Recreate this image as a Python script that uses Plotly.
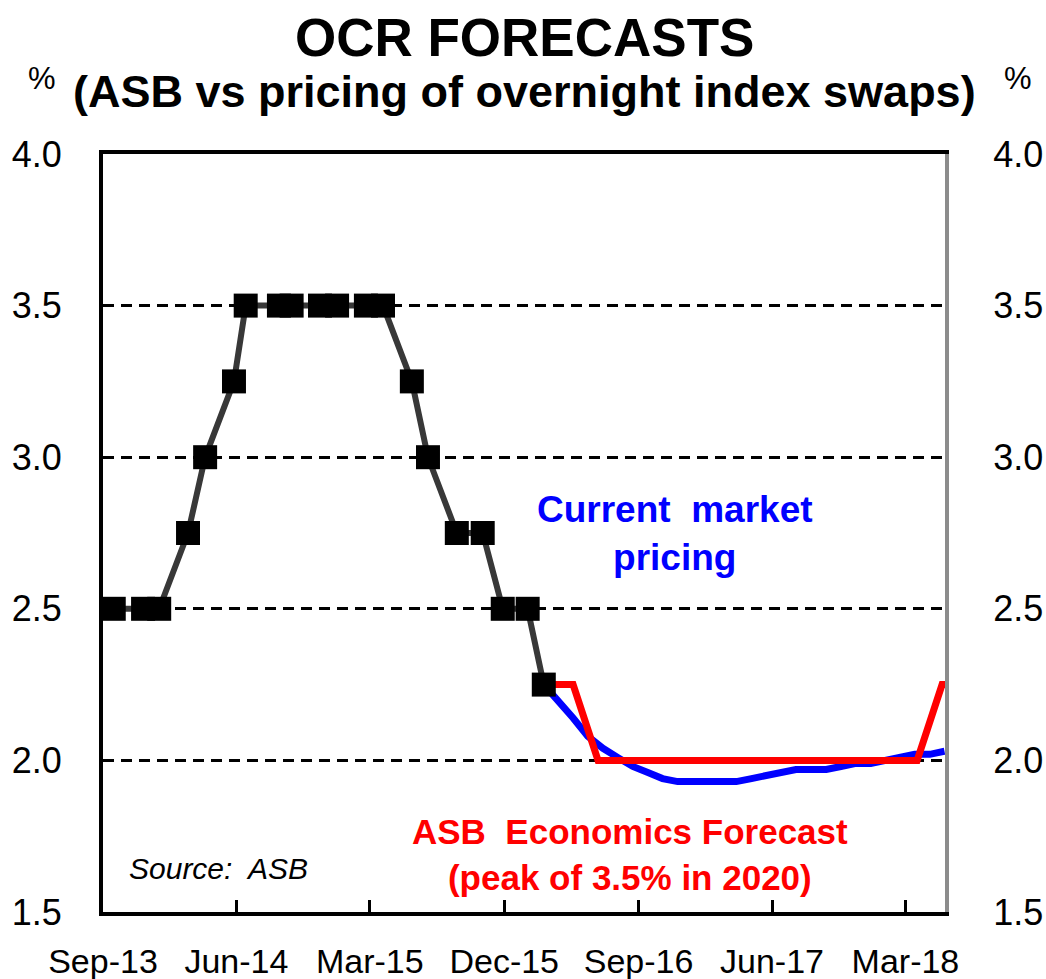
import plotly.graph_objects as go

# Official cash rate history (decision dates and rate, %)
ocr_dates = [
    "2013-08-28", "2013-09-23", "2013-11-22", "2013-12-25", "2014-02-22",
    "2014-03-29", "2014-05-27", "2014-06-20", "2014-08-27", "2014-09-22",
    "2014-11-19", "2014-12-24", "2015-02-21", "2015-03-28", "2015-05-26",
    "2015-06-28", "2015-08-26", "2015-10-18", "2015-11-28", "2016-01-18",
    "2016-02-20",
]
ocr_values = [
    2.50, 2.50, 2.50, 2.50, 2.75,
    3.00, 3.25, 3.50, 3.50, 3.50,
    3.50, 3.50, 3.50, 3.50, 3.25,
    3.00, 2.75, 2.75, 2.50, 2.50,
    2.25,
]

# Market pricing implied by overnight index swaps
market_dates = [
    "2016-02-20", "2016-03-20", "2016-04-20", "2016-05-20", "2016-06-20",
    "2016-07-20", "2016-08-20", "2016-09-20", "2016-10-20", "2016-11-20",
    "2016-12-20", "2017-01-20", "2017-02-20", "2017-03-20", "2017-04-20",
    "2017-05-20", "2017-06-20", "2017-07-20", "2017-08-20", "2017-09-20",
    "2017-10-20", "2017-11-20", "2017-12-20", "2018-01-20", "2018-02-20",
    "2018-03-20", "2018-04-20", "2018-05-20",
]
market_values = [
    2.25, 2.20, 2.14, 2.08, 2.04,
    2.01, 1.98, 1.96, 1.94, 1.93,
    1.93, 1.93, 1.93, 1.93, 1.94,
    1.95, 1.96, 1.97, 1.97, 1.97,
    1.98, 1.99, 1.99, 2.00, 2.01,
    2.02, 2.02, 2.03,
]

# ASB Economics OCR forecast
asb_dates = ["2016-02-20", "2016-04-20", "2016-06-10", "2018-03-25", "2018-05-15", "2018-05-31"]
asb_values = [2.25, 2.25, 2.00, 2.00, 2.25, 2.25]

# Axis ticks
x_tick_dates = ["2013-09-01", "2014-06-01", "2015-03-01", "2015-12-01",
                "2016-09-01", "2017-06-01", "2018-03-01"]
x_tick_text = ["Sep-13", "Jun-14", "Mar-15", "Dec-15", "Sep-16", "Jun-17", "Mar-18"]
y_ticks = [1.5, 2.0, 2.5, 3.0, 3.5, 4.0]
x_range = ["2013-09-01", "2018-05-21"]
y_range = [1.5, 4.0]

BASE = "Liberation Sans, Arial, sans-serif"

fig = go.Figure()

fig.add_trace(go.Scatter(
    x=market_dates, y=market_values, mode="lines",
    line=dict(color="#0000ff", width=7), hoverinfo="skip", showlegend=False,
))
fig.add_trace(go.Scatter(
    x=asb_dates, y=asb_values, mode="lines",
    line=dict(color="#ff0000", width=7), hoverinfo="skip", showlegend=False,
))
fig.add_trace(go.Scatter(
    x=ocr_dates, y=ocr_values, mode="lines+markers",
    line=dict(color="#383838", width=6),
    marker=dict(symbol="square", size=24, color="#000000"),
    cliponaxis=False, showlegend=False,
))
# anchor trace for the right-hand axis
fig.add_trace(go.Scatter(
    x=[ocr_dates[-1]], y=[ocr_values[-1]], yaxis="y2", mode="markers",
    marker=dict(opacity=0), hoverinfo="skip", showlegend=False,
))

axis_font = dict(family=BASE, size=36, color="#000000")

fig.update_layout(
    width=1046, height=979,
    margin=dict(l=103, r=101, t=154, b=67),
    paper_bgcolor="#ffffff", plot_bgcolor="#ffffff",
    xaxis=dict(
        type="date", range=x_range, automargin=False,
        tickvals=x_tick_dates, ticktext=x_tick_text,
        tickfont=dict(family=BASE, size=34, color="#000000"),
        ticks="inside", ticklen=12, tickwidth=3, tickcolor="#000000",
        ticklabelstandoff=16,
        showline=True, linecolor="#000000", linewidth=4, mirror=True,
        showgrid=False, zeroline=False,
    ),
    yaxis=dict(
        range=y_range, tickvals=y_ticks, tickformat=".1f", automargin=False,
        tickfont=axis_font, ticks="", ticklabelstandoff=30,
        showline=True, linecolor="#000000", linewidth=4,
        showgrid=True, gridcolor="#000000", gridwidth=3, griddash="11px,7px",
        zeroline=False,
    ),
    yaxis2=dict(
        range=y_range, tickvals=y_ticks, tickformat=".1f", automargin=False,
        tickfont=axis_font, ticks="", ticklabelstandoff=37,
        overlaying="y", side="right",
        showline=True, linecolor="#8c8c8c", linewidth=4,
        showgrid=False, zeroline=False,
    ),
)

annotations = [
    dict(text="<b>OCR FORECASTS</b>", x=0.5, y=1.154,
         font=dict(family=BASE, size=53, color="#000000")),
    dict(text="<b>(ASB vs pricing of overnight index swaps)</b>", x=0.5, y=1.082,
         font=dict(family=BASE, size=45, color="#000000")),
    dict(text="%", x=-0.073, y=1.100, font=dict(family=BASE, size=31, color="#000000")),
    dict(text="%", x=1.087, y=1.100, font=dict(family=BASE, size=31, color="#000000")),
    dict(text="<b>Current  market<br>pricing</b>", x=0.679, y=0.50,
         font=dict(family=BASE, size=37, color="#0000ff")),
    dict(text="<b>ASB  Economics Forecast<br>(peak of 3.5% in 2020)</b>", x=0.626, y=0.0765,
         font=dict(family=BASE, size=35, color="#ff0000")),
    dict(text="<i>Source:  ASB</i>", x=0.0285, y=0.058, xanchor="left",
         font=dict(family=BASE, size=30, color="#000000")),
]
for a in annotations:
    a.setdefault("xanchor", "center")
    fig.add_annotation(xref="paper", yref="paper", yanchor="middle",
                       showarrow=False, **a)

fig.write_html("out.html")
